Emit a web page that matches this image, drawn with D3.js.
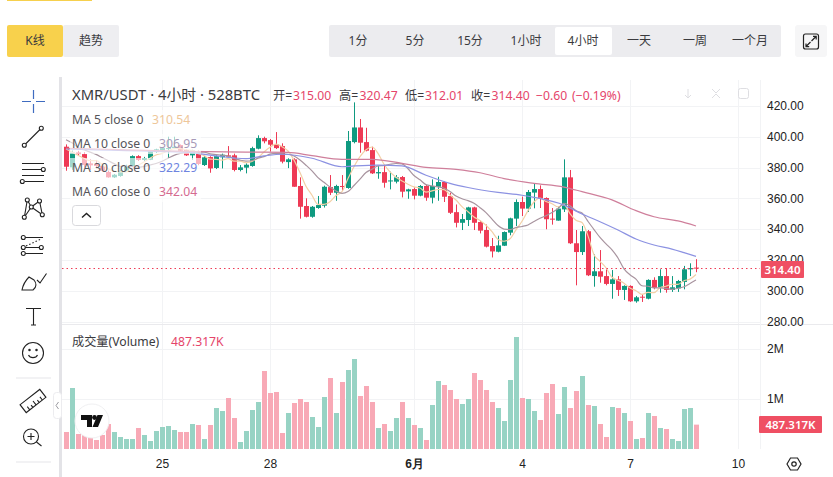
<!DOCTYPE html>
<html lang="zh">
<head>
<meta charset="utf-8">
<title>XMR/USDT 4小时</title>
<script src="https://cdn.jsdelivr.net/npm/d3@7/dist/d3.min.js"></script>
<style>
  html, body { margin: 0; padding: 0; background: #fff; overflow: hidden; }
  svg { display: block; font-family: "Noto Sans", "Noto Sans CJK SC", sans-serif; }
</style>
</head>
<body>
<svg id="chart" width="833" height="477"></svg>
<script>
// Candles, oldest first, one per 4 hours
const opens = [393.5,380.1,389.8,388.7,382.7,382.3,381.0,377.1,373.6,374.5,377.9,381.0,387.4,384.9,385.0,390.0,391.0,392.4,392.6,394.6,391.3,387.9,390.3,381.6,386.8,379.7,386.6,387.9,387.9,378.4,379.9,381.0,392.2,399.1,397.8,395.2,393.9,383.5,385.3,368.0,355.0,348.0,353.7,355.2,367.3,363.6,368.0,366.7,396.5,406.0,396.5,391.3,376.2,377.0,371.2,370.8,373.8,364.5,366.0,361.7,368.0,360.4,367.5,370.6,361.5,351.0,344.1,345.9,354.1,344.6,339.4,329.0,325.3,329.2,337.7,346.8,357.6,353.3,363.7,366.0,360.2,346.8,345.5,352.8,373.6,330.8,325.1,338.6,309.5,312.6,309.5,304.4,307.4,300.5,303.1,293.1,296.1,294.8,307.0,302.2,309.5,300.5,301.5,305.7,313.9,315.0];
const highs = [395.0,391.0,390.8,390.0,385.3,384.9,382.0,378.0,375.8,378.5,381.8,387.9,388.0,386.9,391.0,392.2,393.0,400.0,400.0,395.0,391.8,391.5,391.0,387.5,387.3,388.0,389.0,393.9,389.0,381.6,382.7,393.5,400.9,400.0,398.5,403.0,395.7,386.0,386.0,373.6,360.0,355.0,361.5,368.2,375.1,368.8,375.1,403.7,422.3,411.5,405.8,393.5,380.9,381.8,377.3,375.1,374.5,366.2,367.1,368.6,368.6,372.3,374.0,371.0,363.6,356.0,349.8,354.5,354.5,345.5,343.0,334.2,335.7,338.5,347.4,359.3,361.1,365.4,369.7,368.4,360.6,353.7,354.6,385.3,378.4,339.4,342.0,339.4,323.6,326.4,313.9,313.4,309.5,303.5,303.5,296.6,297.9,307.4,308.7,313.9,314.7,309.5,307.0,316.1,317.8,320.47];
const lows = [377.9,378.5,387.9,380.0,378.4,379.4,377.5,373.4,373.2,374.0,377.5,380.5,384.2,384.0,384.8,389.5,390.5,385.9,392.0,390.5,387.5,385.0,381.5,381.0,376.6,379.0,379.4,386.5,377.5,377.5,376.2,380.5,391.8,395.7,390.3,392.0,382.7,379.6,367.5,346.8,347.6,347.4,353.2,354.0,362.1,358.4,364.9,366.2,395.7,389.6,390.5,375.8,372.7,366.9,365.8,369.7,360.6,359.7,359.3,361.3,358.4,356.7,358.4,357.6,349.8,341.1,339.4,342.0,339.4,337.2,328.1,321.6,324.9,329.0,336.0,342.0,348.5,351.1,353.5,353.7,339.9,342.9,345.5,351.1,330.3,303.5,323.2,309.5,302.6,305.2,303.5,294.8,296.6,294.0,292.7,292.2,292.7,294.4,300.9,298.7,298.7,299.2,299.2,300.9,309.5,312.01];
const closes = [380.5,389.6,388.7,381.6,381.4,381.0,377.9,373.6,375.3,377.9,381.0,387.4,384.9,386.1,390.5,391.8,392.6,392.6,393.5,390.9,387.9,390.9,382.3,386.6,379.4,387.4,388.3,387.0,378.4,380.1,381.8,392.6,399.1,397.0,394.8,392.6,383.8,385.3,367.5,354.5,348.0,354.5,355.6,367.5,363.6,368.0,367.5,397.2,406.0,396.1,390.9,376.2,377.0,370.1,371.6,373.6,364.3,365.8,361.7,368.0,360.4,368.0,370.6,361.0,350.6,344.1,346.5,354.1,344.1,339.0,328.6,325.5,329.4,338.1,347.0,357.6,353.3,364.1,366.0,359.8,346.4,346.4,353.3,373.6,330.8,325.1,338.6,310.0,312.6,309.1,304.4,307.4,300.5,303.1,293.1,295.7,295.7,307.0,301.8,309.5,300.5,302.2,306.3,313.9,314.7,314.40];
const volumes = [0.34,1.22,0.30,0.28,0.24,0.18,0.28,0.50,0.34,0.24,0.20,0.20,0.42,0.28,0.16,0.36,0.44,0.46,0.38,0.34,0.34,0.50,0.48,0.20,0.48,0.82,0.76,1.02,0.62,0.14,0.36,0.78,0.94,1.56,1.12,1.14,0.32,0.72,0.92,1.00,0.94,0.64,0.44,1.04,1.42,0.72,1.34,1.58,1.80,1.06,1.26,0.94,0.42,0.50,0.36,0.62,0.94,0.62,0.48,0.42,0.18,0.88,1.36,1.28,1.18,1.00,0.90,1.00,1.52,1.38,1.18,0.94,0.82,0.56,1.38,2.24,1.02,1.00,0.76,0.58,1.12,1.30,0.70,1.24,0.82,1.16,1.46,0.88,0.86,0.50,0.24,0.84,0.82,0.72,0.56,0.20,0.22,0.72,0.66,0.42,0.40,0.20,0.16,0.80,0.82,0.487317];

// Moving averages of the close
const ma5 = [392.0,390.0,388.0,386.0,384.4,384.5,382.1,379.1,377.8,377.1,377.1,379.0,381.3,383.5,386.0,388.1,389.2,390.7,392.2,392.3,391.5,391.2,389.1,387.7,385.4,385.3,384.8,385.7,384.1,384.2,383.1,384.0,386.4,390.1,393.1,395.2,393.5,390.7,384.8,376.7,367.8,362.0,356.0,356.0,357.8,361.8,364.4,372.8,380.5,387.0,391.5,393.3,389.2,382.1,377.2,373.7,371.3,369.1,367.4,366.7,364.0,364.8,365.7,365.6,362.1,358.9,354.6,351.3,347.9,345.6,342.5,338.3,333.3,332.1,333.7,339.5,345.1,352.0,357.6,360.2,357.9,356.5,354.4,355.9,350.1,345.8,344.3,335.6,323.4,319.1,314.9,308.7,306.8,304.9,301.7,300.0,297.6,298.9,298.7,301.9,302.9,304.2,304.1,306.5,307.5,310.54];
const ma10 = [398.0,396.0,393.0,391.5,390.0,388.5,386.5,384.5,382.5,380.8,380.8,380.6,380.2,380.7,381.6,382.6,384.1,386.0,387.9,389.2,389.8,390.2,389.9,390.0,388.9,388.4,388.0,387.4,385.9,384.8,384.2,384.4,386.1,387.1,388.7,389.2,388.8,388.6,387.5,384.9,381.5,377.8,373.4,370.4,367.3,364.8,363.2,364.4,368.3,372.4,376.7,378.9,381.0,381.3,382.1,382.6,382.3,379.2,374.8,372.0,368.9,368.1,367.4,366.5,364.4,361.5,359.7,358.5,356.8,353.9,350.7,346.5,342.3,340.0,339.7,341.0,341.7,342.7,344.9,347.0,348.7,350.8,353.2,356.8,355.2,351.9,350.4,345.0,339.7,334.6,330.4,326.5,321.2,314.2,310.4,307.5,303.2,302.9,301.8,301.8,301.5,300.9,301.5,302.6,304.7,306.95];
const ma30Bars = [0,5,10,15,20,25,28,30,33,36,41,46,48,52,56,60,64,67,72,76,78,83,86,89,92,95,98,101,103,105];
const ma30 = [392.0,391.5,391.0,390.5,390.0,387.5,386.2,385.8,387.5,388.6,386.0,380.5,381.0,381.6,381.0,375.0,369.7,367.0,363.8,362.0,360.6,355.6,349.8,344.8,339.4,333.6,329.7,327.0,324.7,322.29];
const ma60Bars = [0,10,20,30,37,41,46,51,56,60,65,69,73,78,83,86,91,95,98,102,105];
const ma60 = [392.5,391.5,390.5,390.0,389.8,387.7,385.3,385.3,382.7,380.1,378.8,376.6,372.8,369.7,367.3,364.3,359.0,352.0,348.0,345.3,342.04];

// Axis ticks and labels
const priceTicks = [280,300,320,340,360,380,400,420];
const volumeTicks = [1e6,2e6];
const volumeTickLabels = ["1M","2M"];
const timeBars = [16,34,58,76,94,112];
const timeLabels = ["25","28","6月","4","7","10"];
const periods = ["1分","5分","15分","1小时","4小时","一天","一周","一个月"];
const periodCentres = [358,415,470,526,583,639,695,750];

const legendRows = [
  {name:"MA 5 close 0",  value:"310.54", color:"#eec79a", gap:152},
  {name:"MA 10 close 0", value:"306.95", color:"#a79ab8", gap:159},
  {name:"MA 30 close 0", value:"322.29", color:"#6f84e0", gap:159},
  {name:"MA 60 close 0", value:"342.04", color:"#d46a8f", gap:159}
];

const UP = "#0f9a80", DOWN = "#ee3a55";
const VOL_UP = "#97d3c4", VOL_DOWN = "#f8a9b6";
const MA_COLORS = {ma5:"#f3d0a6", ma10:"#a8949f", ma30:"#8c92e2", ma60:"#cf7f9b"};
const TEXT = "#3a3a3e", VALUE = "#e5456a", GRID = "#f2f3f5";

const svg = d3.select("#chart");

const x = d3.scaleLinear().domain([0,105]).range([66,696]);
const y = d3.scaleLinear().domain([300,420]).range([290.7,105.9]);
const vy = d3.scaleLinear().domain([0,2e6]).range([449,349]);

// Header controls
svg.append("rect").attr("x",7).attr("y",0).attr("width",85).attr("height",1).attr("fill","#f6d04d");
svg.append("rect").attr("x",7).attr("y",25).attr("width",56).attr("height",32).attr("rx",2).attr("fill","#f8d14c");
svg.append("rect").attr("x",63).attr("y",25).attr("width",56).attr("height",32).attr("rx",2).attr("fill","#eeeef1");
svg.append("text").attr("x",35).attr("y",45).attr("text-anchor","middle").attr("font-size",12).attr("fill",TEXT).text("K线");
svg.append("text").attr("x",91).attr("y",45).attr("text-anchor","middle").attr("font-size",12).attr("fill",TEXT).text("趋势");

svg.append("rect").attr("x",329).attr("y",25).attr("width",452).attr("height",32).attr("rx",2).attr("fill","#ececef");
svg.append("rect").attr("x",555).attr("y",27).attr("width",57).attr("height",28).attr("rx",2).attr("fill","#fff");
svg.append("g").selectAll("text").data(periods).join("text")
  .attr("x",(d,i)=>periodCentres[i]).attr("y",45).attr("text-anchor","middle")
  .attr("font-size",12).attr("fill",TEXT).text(d=>d);

svg.append("rect").attr("x",795).attr("y",25).attr("width",32).attr("height",32).attr("rx",3).attr("fill","#f6f6f7");
const full = svg.append("g").attr("fill","none").attr("stroke","#222").attr("stroke-width",1.2);
full.append("rect").attr("x",803.5).attr("y",34).attr("width",15).attr("height",15).attr("rx",2);
full.append("path").attr("d","M811.5 41 L816 36.5 M813 36.3 H816.2 V39.5 M810.5 42 L806 46.5 M806 43.5 V46.7 H809.2");

// Pane dividers and gridlines
svg.append("rect").attr("x",59).attr("y",77).attr("width",3).attr("height",400).attr("fill","#e3e3e7");
const grid = svg.append("g").attr("stroke",GRID).attr("stroke-width",1);
grid.selectAll("line.v").data(timeBars).join("line").attr("class","v")
  .attr("x1",d=>Math.round(x(d))+.5).attr("x2",d=>Math.round(x(d))+.5).attr("y1",80).attr("y2",449);
grid.selectAll("line.h").data(priceTicks).join("line").attr("class","h")
  .attr("x1",62).attr("x2",760).attr("y1",d=>Math.round(y(d))+.5).attr("y2",d=>Math.round(y(d))+.5);
grid.selectAll("line.vol").data(volumeTicks).join("line").attr("class","vol")
  .attr("x1",62).attr("x2",760).attr("y1",d=>Math.round(vy(d))+.5).attr("y2",d=>Math.round(vy(d))+.5);
svg.append("line").attr("x1",62).attr("x2",833).attr("y1",324.5).attr("y2",324.5).attr("stroke","#eaeaed");
svg.append("line").attr("x1",760.5).attr("x2",760.5).attr("y1",80).attr("y2",449).attr("stroke",GRID);

// Price pane, clipped at its lower edge
svg.append("clipPath").attr("id","pricePane").append("rect").attr("x",62).attr("y",80).attr("width",698).attr("height",244);
const pane = svg.append("g").attr("clip-path","url(#pricePane)");

const bars = d3.range(closes.length);
const candle = pane.append("g").selectAll("g").data(bars).join("g")
  .attr("fill",i=>closes[i]>=opens[i]?UP:DOWN);
candle.append("rect")
  .attr("x",i=>Math.round(x(i))).attr("width",1)
  .attr("y",i=>y(highs[i])).attr("height",i=>y(lows[i])-y(highs[i]));
candle.append("rect")
  .attr("x",i=>Math.round(x(i))-2).attr("width",5)
  .attr("y",i=>y(Math.max(opens[i],closes[i])))
  .attr("height",i=>Math.max(1,Math.abs(y(opens[i])-y(closes[i]))));

const maLine = d3.line().x(d=>x(d[0])).y(d=>y(d[1])).curve(d3.curveMonotoneX);
const maPaths = [
  [d3.zip(bars,ma5), MA_COLORS.ma5],
  [d3.zip(bars,ma10), MA_COLORS.ma10],
  [d3.zip(ma30Bars,ma30), MA_COLORS.ma30],
  [d3.zip(ma60Bars,ma60), MA_COLORS.ma60]
];
pane.append("g").attr("fill","none").attr("stroke-width",1.2).selectAll("path").data(maPaths).join("path")
  .attr("d",d=>maLine(d[0])).attr("stroke",d=>d[1]);

// Last-price marker
svg.append("line").attr("x1",62).attr("x2",760).attr("y1",y(314.4)).attr("y2",y(314.4))
  .attr("stroke",DOWN).attr("stroke-dasharray","1.5 3").attr("stroke-width",1);

// Volume pane
svg.append("g").selectAll("rect").data(bars).join("rect")
  .attr("x",i=>Math.round(x(i))-2).attr("width",5)
  .attr("y",i=>vy(volumes[i]*1e6)).attr("height",i=>vy(0)-vy(volumes[i]*1e6))
  .attr("fill",i=>closes[i]>=opens[i]?VOL_UP:VOL_DOWN);

// Axes
const priceAxis = svg.append("g").attr("transform","translate(767,0)")
  .call(d3.axisRight(y).tickValues(priceTicks.filter(d=>d>=280)).tickFormat(d3.format(".2f")).tickSize(0).tickPadding(0));
priceAxis.select(".domain").remove();
priceAxis.selectAll("text").attr("font-size",12).attr("font-family","inherit").attr("fill","#222");

const volAxis = svg.append("g").attr("transform","translate(767,0)")
  .call(d3.axisRight(vy).tickValues(volumeTicks).tickFormat((d,i)=>volumeTickLabels[i]).tickSize(0).tickPadding(0));
volAxis.select(".domain").remove();
volAxis.selectAll("text").attr("font-size",12).attr("font-family","inherit").attr("fill","#222");

const timeAxis = svg.append("g").attr("transform","translate(0,459)")
  .call(d3.axisBottom(x).tickValues(timeBars).tickFormat((d,i)=>timeLabels[i]).tickSize(0).tickPadding(0));
timeAxis.select(".domain").remove();
timeAxis.selectAll("text").attr("font-size",12).attr("font-family","inherit").attr("fill","#222")
  .attr("font-weight",(d,i)=>timeLabels[i]==="6月"?600:400);

// Current-value flags
svg.append("rect").attr("x",761).attr("y",261).attr("width",43).attr("height",17).attr("rx",1).attr("fill","#ef4f63");
svg.append("text").attr("x",782.5).attr("y",273.5).attr("text-anchor","middle").attr("font-size",11.5).attr("font-weight",600).attr("fill","#fff").text("314.40");
svg.append("rect").attr("x",759).attr("y",416).attr("width",63).attr("height",17).attr("rx",1).attr("fill","#ef4f63");
svg.append("text").attr("x",790.5).attr("y",428.5).attr("text-anchor","middle").attr("font-size",11.5).attr("font-weight",600).attr("fill","#fff").text("487.317K");

// Legend block
const title = svg.append("text").attr("x",72).attr("y",100).attr("font-size",14.8).attr("fill",TEXT);
title.append("tspan").text("XMR/USDT · 4小时 · 528BTC");
const ohlc = svg.append("text").attr("y",100).attr("font-size",12.2);
[["开=",273,TEXT],["315.00",293,VALUE],["高=",339,TEXT],["320.47",359.5,VALUE],["低=",405,TEXT],["312.01",425,VALUE],["收=",471,TEXT],["314.40",491.5,VALUE],["−0.60",536,VALUE],["(−0.19%)",572,VALUE]]
  .forEach(([t,px,c])=>{
    ohlc.append("tspan").attr("fill",c).attr("x",px).text(t);
  });

const rowTops = [110,134,158,182];
const rows = svg.append("g").selectAll("g").data(legendRows).join("g");
rows.append("rect").attr("x",70).attr("y",(d,i)=>rowTops[i]).attr("height",20)
  .attr("width",d=>d.gap+42-70).attr("fill","#fff").attr("fill-opacity",0.62);
rows.append("text").attr("x",72).attr("y",(d,i)=>rowTops[i]+14).attr("font-size",12.2).attr("fill","#55555a").text(d=>d.name);
rows.append("text").attr("x",d=>d.gap).attr("y",(d,i)=>rowTops[i]+14).attr("font-size",12.2).attr("fill",d=>d.color).text(d=>d.value);

svg.append("rect").attr("x",72.5).attr("y",205.5).attr("width",28).attr("height",20).attr("rx",3).attr("fill","#fff").attr("stroke","#d9d9dd");
svg.append("path").attr("d","M82 217.5 L86.5 213.5 L91 217.5").attr("fill","none").attr("stroke","#222").attr("stroke-width",1.4);

const volTitle = svg.append("text").attr("x",72).attr("y",346).attr("font-size",12.2);
volTitle.append("tspan").attr("fill",TEXT).text("成交量(Volume)");
volTitle.append("tspan").attr("x",171).attr("fill",VALUE).text("487.317K");

// Pane buttons that sit faintly in the corner
const corner = svg.append("g").attr("fill","none").attr("stroke","#dedee2").attr("stroke-width",1);
corner.append("path").attr("d","M688 89 V98 M685 95 L688 98 L691 95");
corner.append("path").attr("d","M712 89 L716 93 L720 89 M712 98 L716 94 L720 98");
corner.append("rect").attr("x",738.5).attr("y",88.5).attr("width",10).attr("height",10).attr("rx",2);

// Watermark badge
const badge = svg.append("g");
badge.append("circle").attr("cx",92).attr("cy",421).attr("r",17).attr("fill","#fff").attr("stroke","#f0f0f2");
badge.append("path").attr("fill","#111")
  .attr("d","M81 415 H92 V427 H87 V420 H81 Z M103 415 L98 427 H92.5 L97.5 415 Z");
badge.append("circle").attr("cx",94.5).attr("cy",417.5).attr("r",2.4).attr("fill","#111");

// Settings button
const gear = svg.append("g").attr("fill","none").attr("stroke","#222").attr("stroke-width",1.2);
gear.append("path").attr("d","M787 464 L790.5 458 H797.5 L801 464 L797.5 470 H790.5 Z");
gear.append("circle").attr("cx",794).attr("cy",464).attr("r",2.2);

// Drawing toolbar
const crossColor = "#3f6cc0";
svg.append("path").attr("d","M22 101.5 H31 M36 101.5 H45 M33.5 90 V99 M33.5 104 V113").attr("stroke",crossColor).attr("fill","none").attr("stroke-width",1.2);
const tools = svg.append("g").attr("fill","none").attr("stroke","#222").attr("stroke-width",1.1);
const node = (cx,cy) => tools.append("circle").attr("cx",cx).attr("cy",cy).attr("r",2).attr("fill","#fff");
tools.append("path").attr("d","M25.5 144 L40 129.5"); node(24.3,145.3); node(41.3,128.3);
tools.append("path").attr("d","M22 163.5 H44 M22 169.5 H41 M22 175.5 H44 M25 181.5 H44"); node(43.3,169.5); node(22.3,181.5);
tools.append("path").attr("d","M27.3 200 L24.3 217.3 L31.3 207 L27.3 200 M31.3 207 L39.5 201 L42.3 214.7 L31.3 207");
node(27.3,200); node(39.5,201); node(31.3,207); node(24.3,217.3); node(42.3,214.7);
tools.append("path").attr("d","M25 237.5 H43 M25 247.5 H39 M25 253.5 H43");
tools.append("path").attr("d","M26 246 L41 239").attr("stroke-dasharray","1.5 2");
node(23.3,237.5); node(23.3,247.5); node(41.3,247.5); node(23.3,253.5);
tools.append("path").attr("d","M22 290 H33 C37 287 36.5 283 34 280 L29 277 C25 281 23 285 22 290 Z M37 280 L40 283 L46.5 273.5");
tools.append("path").attr("d","M26 308.5 H41 M33.5 308.5 V325 M31 325 H36");
tools.append("circle").attr("cx",33).attr("cy",353).attr("r",10.5);
tools.append("path").attr("d","M28.5 355 C30 358.5 36 358.5 37.5 355");
tools.append("circle").attr("cx",29.5).attr("cy",350).attr("r",.7).attr("fill","#222");
tools.append("circle").attr("cx",36.5).attr("cy",350).attr("r",.7).attr("fill","#222");
svg.append("rect").attr("x",16).attr("y",377.5).attr("width",35).attr("height",1).attr("fill","#e6e6e9");
tools.append("g").attr("transform","translate(33,401) rotate(-38)").call(g=>{
  g.append("rect").attr("x",-12.5).attr("y",-5).attr("width",25).attr("height",10);
  g.append("path").attr("d","M-8 5 V1 M-4 5 V2 M0 5 V0 M4 5 V2 M8 5 V1");
});
tools.append("circle").attr("cx",31).attr("cy",436.5).attr("r",7.5);
tools.append("path").attr("d","M36.5 442 L41.5 446 M27.5 436.5 H34.5 M31 433 V440");
svg.append("rect").attr("x",16).attr("y",461.5).attr("width",35).attr("height",1).attr("fill","#e6e6e9");

// Toolbar collapse handle
svg.append("rect").attr("x",53.5).attr("y",392.5).attr("width",8).attr("height",26).attr("rx",3).attr("fill","#fff").attr("stroke","#ececef");
svg.append("path").attr("d","M58.5 402 L56 405.5 L58.5 409").attr("fill","none").attr("stroke","#9a9aa0");
</script>
</body>
</html>
